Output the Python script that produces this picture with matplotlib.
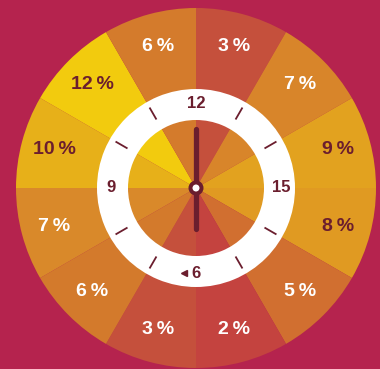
import numpy as np
import matplotlib
matplotlib.use("Agg")
import matplotlib.pyplot as plt
from matplotlib.patches import Wedge, Circle

# parts du jour, de midi dans le sens horaire (un secteur = une "heure" du cadran)
pourcentages = [3, 7, 9, 8, 5, 2, 3, 6, 7, 10, 12, 6]
largeurs = [1, 1, 1, 1, 1, 1, 1, 1, 1, 1, 1, 1]
couleurs = ['#C5503C', '#D8852A', '#E2A21F', '#E09A22', '#D16F30', '#C4433F',
            '#C5503C', '#D37A2C', '#D9892A', '#E7B019', '#F2CB0E', '#D47B2C']
texte_fonce = [False, False, True, True, False, False, False, False, False, True, True, False]
heures = ['12', '15', '6', '9']          # chiffres du cadran (haut, droite, bas, gauche)
fond = '#B5234E'
bordeaux = '#6B1E2E'

fig = plt.figure(figsize=(3.80, 3.69), dpi=100, facecolor=fond)
ax = fig.add_axes([0, 0, 1, 1])
ax.set_facecolor(fond)

cx, cy = 196, 181
R = 180

ax.pie(largeurs, colors=couleurs, startangle=90, counterclock=False,
       center=(cx, cy), radius=R, frame=True,
       wedgeprops=dict(linewidth=0))

# etiquettes des pourcentages
for i, p in enumerate(pourcentages):
    a = np.deg2rad(90 - (i + 0.5) * 30)
    x = cx + 147 * np.cos(a)
    y = cy + 147 * np.sin(a)
    c = bordeaux if texte_fonce[i] else 'white'
    ax.text(x, y, f"{p}\u2009%", ha='center', va='center', fontsize=14,
            fontweight='bold', color=c, family=['Liberation Sans', 'DejaVu Sans'])

# anneau blanc du cadran
ax.add_patch(Wedge((cx, cy), 99, 0, 360, width=31, facecolor='white', edgecolor='none'))

# graduations
for k in range(12):
    if k % 3 == 0:
        continue
    a = np.deg2rad(90 - k * 30)
    ax.plot([cx + 80 * np.cos(a), cx + 92 * np.cos(a)],
            [cy + 80 * np.sin(a), cy + 92 * np.sin(a)], color=bordeaux, lw=1.3)

# chiffres
for k, h in enumerate(heures):
    a = np.deg2rad(90 - k * 90)
    ax.text(cx + 85 * np.cos(a), cy + 85 * np.sin(a), h, ha='center', va='center',
            fontsize=12, fontweight='bold', color=bordeaux, family='Liberation Sans')
ax.plot(184, cy - 85, marker='<', color=bordeaux, markersize=5)

# aiguilles
ax.plot([cx, cx], [cy, cy + 59], color=bordeaux, lw=3.8, solid_capstyle='round')
ax.plot([cx, cx], [cy, cy - 41], color=bordeaux, lw=3.8, solid_capstyle='round')
ax.add_patch(Circle((cx, cy), 7.5, facecolor=bordeaux, edgecolor='none', zorder=5))
ax.add_patch(Circle((cx, cy), 3.5, facecolor='white', edgecolor='none', zorder=6))

ax.set_xlim(0, 380)
ax.set_ylim(0, 369)
ax.axis('off')
fig.savefig('out.png', dpi=100, facecolor=fond)
